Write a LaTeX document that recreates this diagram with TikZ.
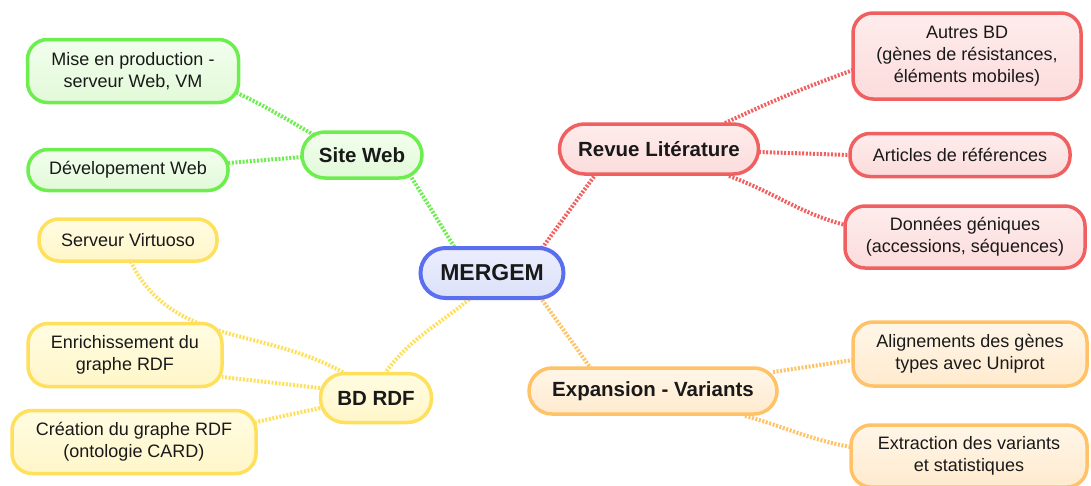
\documentclass[tikz,border=0pt]{standalone}
\usepackage{fontspec}
\setmainfont{Liberation Sans}
\usetikzlibrary{backgrounds}

% branch colours: stroke, top fill, bottom fill
\definecolor{gS}{RGB}{108,238,78}
\definecolor{gT}{RGB}{242,254,238}
\definecolor{gB}{RGB}{226,250,216}
\definecolor{rS}{RGB}{240,96,96}
\definecolor{rT}{RGB}{254,236,236}
\definecolor{rB}{RGB}{252,220,220}
\definecolor{yS}{RGB}{255,224,92}
\definecolor{yT}{RGB}{255,252,226}
\definecolor{yB}{RGB}{255,246,200}
\definecolor{oS}{RGB}{255,194,102}
\definecolor{oT}{RGB}{255,246,232}
\definecolor{oB}{RGB}{255,234,206}
\definecolor{bS}{RGB}{90,110,240}
\definecolor{bT}{RGB}{236,238,253}
\definecolor{bB}{RGB}{220,225,249}
\definecolor{ink}{RGB}{25,25,25}

\begin{document}
\begin{tikzpicture}[x=1pt,y=1pt,
  box/.style={line width=3.5pt, align=center, inner sep=0pt, text=ink,
              font=\fontsize{18}{22}\selectfont},
  leaf/.style={box, rounded corners=20pt},
  hub/.style={box, font=\fontsize{20.5}{24}\selectfont\bfseries},
  greenbox/.style={draw=gS, top color=gT, bottom color=gB},
  redbox/.style={draw=rS, top color=rT, bottom color=rB},
  yellowbox/.style={draw=yS, top color=yT, bottom color=yB},
  orangebox/.style={draw=oS, top color=oT, bottom color=oB},
  bluebox/.style={draw=bS, top color=bT, bottom color=bB},
  link/.style={line width=4pt, dash pattern=on 2pt off 1.6pt},
]
\useasboundingbox (0,0) rectangle (1091,-485);

% centre
\node[box, bluebox, line width=4pt, rounded corners=25pt,
      minimum width=143pt, minimum height=50pt,
      font=\fontsize{23}{26}\selectfont\bfseries] (main) at (492,-273) {MERGEM};

% branches
\node[hub, greenbox, rounded corners=23pt, minimum width=120pt, minimum height=46pt] (site) at (362,-155) {Site Web};
\node[hub, redbox, rounded corners=25pt, minimum width=199pt, minimum height=50pt] (revue) at (659,-149) {Revue Litérature};
\node[hub, yellowbox, rounded corners=24pt, minimum width=111pt, minimum height=49pt] (bdrdf) at (376,-398) {BD RDF};
\node[hub, orangebox, rounded corners=23pt, minimum width=248pt, minimum height=46pt] (expan) at (653,-391) {Expansion - Variants};

% leaves of Site Web
\node[leaf, greenbox, minimum width=211pt, minimum height=63pt] (mise) at (133,-71) {Mise en production -\\serveur Web, VM};
\node[leaf, greenbox, minimum width=200pt, minimum height=41pt] (dev) at (128,-170) {Dévelopement Web};

% leaves of BD RDF
\node[leaf, yellowbox, minimum width=178pt, minimum height=42pt] (virt) at (128,-240) {Serveur Virtuoso};
\node[leaf, yellowbox, minimum width=194pt, minimum height=63pt] (enr) at (125,-355) {Enrichissement du\\graphe RDF};
\node[leaf, yellowbox, minimum width=244pt, minimum height=63pt] (crea) at (134,-442) {Création du graphe RDF\\(ontologie CARD)};

% leaves of Revue Litérature
\node[leaf, redbox, minimum width=228pt, minimum height=86pt] (autres) at (967,-56) {Autres BD\\(gènes de résistances,\\éléments mobiles)};
\node[leaf, redbox, minimum width=220pt, minimum height=43pt] (art) at (960,-155) {Articles de références};
\node[leaf, redbox, minimum width=240pt, minimum height=62pt] (don) at (965,-237) {Données géniques\\(accessions, séquences)};

% leaves of Expansion - Variants
\node[leaf, orangebox, minimum width=234pt, minimum height=64pt] (ali) at (970,-354) {Alignements des gènes\\types avec Uniprot};
\node[leaf, orangebox, minimum width=236pt, minimum height=62pt] (ext) at (969,-456) {Extraction des variants\\et statistiques};

% connectors, behind the boxes
\begin{pgfonlayer}{background}
  \draw[link, gS] ([shift={(-34,20)}]main.center) -- ([shift={(48,-20)}]site.center);
  \draw[link, rS] ([shift={(48,22)}]main.center) -- ([shift={(-61,-22)}]revue.center);
  \draw[link, yS] ([shift={(-20,-24)}]main.center) to[out=-140,in=55] ([shift={(7,22)}]bdrdf.center);
  \draw[link, oS] ([shift={(48,-24)}]main.center) -- ([shift={(-61,21)}]expan.center);

  \draw[link, gS] ([shift={(-48,20)}]site.center) to[out=150,in=-25] ([shift={(100,-20)}]mise.center);
  \draw[link, gS] ([shift={(-60,-2)}]site.center) -- ([shift={(100,7)}]dev.center);

  \draw[link, rS] ([shift={(66,26)}]revue.center) to[out=25,in=200] ([shift={(-114,-14)}]autres.center);
  \draw[link, rS] ([shift={(100,-3)}]revue.center) -- ([shift={(-110,0)}]art.center);
  \draw[link, rS] ([shift={(70,-27)}]revue.center) to[out=-20,in=165] ([shift={(-120,12)}]don.center);

  \draw[link, yS] ([shift={(-30,24)}]bdrdf.center) to[out=150,in=-65] ([shift={(2,-20)}]virt.center);
  \draw[link, yS] ([shift={(-56,10)}]bdrdf.center) -- ([shift={(97,-22)}]enr.center);
  \draw[link, yS] ([shift={(-56,-10)}]bdrdf.center) -- ([shift={(122,20)}]crea.center);

  \draw[link, oS] ([shift={(120,19)}]expan.center) -- ([shift={(-117,-6)}]ali.center);
  \draw[link, oS] ([shift={(92,-25)}]expan.center) to[out=-15,in=170] ([shift={(-118,9)}]ext.center);
\end{pgfonlayer}
\end{tikzpicture}
\end{document}
